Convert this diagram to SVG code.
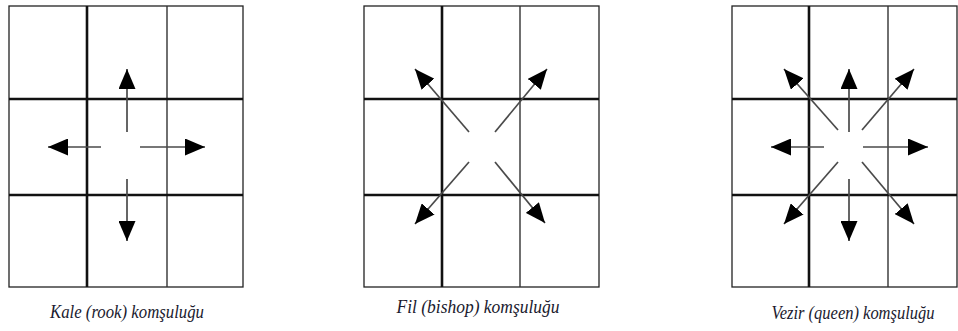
<svg xmlns="http://www.w3.org/2000/svg" width="958" height="331" viewBox="0 0 958 331">
  <style>
    .outer { fill: #fff; stroke: #222; stroke-width: 1.3; }
    .thick { stroke: #111; stroke-width: 2.6; }
    .thin { stroke: #333; stroke-width: 1.4; }
    .arrow { stroke: #4a4a4a; stroke-width: 1.7; fill: none; marker-end: url(#head); }
    .cap { font-family: "Liberation Serif", "Times New Roman", serif; font-style: italic; font-size: 18px; fill: #1a1a2e; text-anchor: middle; }
  </style>
  <defs>
    <marker id="head" viewBox="0 0 20 17" refX="20" refY="8.5" markerWidth="20" markerHeight="17" markerUnits="userSpaceOnUse" orient="auto">
      <path d="M0,0 L20,8.5 L0,17 Z" fill="#000"/>
    </marker>
  </defs>
  <rect width="958" height="331" fill="#fff"/>

  <!-- rook neighbourhood grid -->
  <g id="rook">
    <rect class="outer" x="9" y="6" width="234" height="281"/>
    <line class="thick" x1="87" y1="6" x2="87" y2="287"/>
    <line class="thin" x1="167" y1="6" x2="167" y2="287"/>
    <line class="thick" x1="9" y1="99" x2="243" y2="99"/>
    <line class="thick" x1="9" y1="195" x2="243" y2="195"/>
    <text class="cap" x="127" y="318" textLength="154" lengthAdjust="spacingAndGlyphs">Kale (rook) komşuluğu</text>
  </g>

  <!-- bishop neighbourhood grid -->
  <g id="bishop">
    <rect class="outer" x="364" y="6" width="235" height="281"/>
    <line class="thick" x1="442" y1="6" x2="442" y2="287"/>
    <line class="thin" x1="520" y1="6" x2="520" y2="287"/>
    <line class="thick" x1="364" y1="99" x2="599" y2="99"/>
    <line class="thick" x1="364" y1="195" x2="599" y2="195"/>
    <text class="cap" x="478" y="313" textLength="163" lengthAdjust="spacingAndGlyphs">Fil (bishop) komşuluğu</text>
  </g>

  <!-- queen neighbourhood grid -->
  <g id="queen">
    <rect class="outer" x="732" y="6" width="225" height="281"/>
    <line class="thick" x1="809" y1="6" x2="809" y2="287"/>
    <line class="thin" x1="888" y1="6" x2="888" y2="287"/>
    <line class="thick" x1="732" y1="99" x2="957" y2="99"/>
    <line class="thick" x1="732" y1="195" x2="957" y2="195"/>
    <text class="cap" x="853" y="319" textLength="163" lengthAdjust="spacingAndGlyphs">Vezir (queen) komşuluğu</text>
  </g>

  <!-- movement arrows -->
  <g id="connectors">
    <!-- rook -->
    <line class="arrow" x1="127" y1="132" x2="127" y2="69"/>
    <line class="arrow" x1="101" y1="147" x2="48" y2="147"/>
    <line class="arrow" x1="140" y1="147" x2="205" y2="147"/>
    <line class="arrow" x1="127" y1="179" x2="127" y2="241"/>
    <!-- bishop -->
    <line class="arrow" x1="469" y1="132" x2="415" y2="69"/>
    <line class="arrow" x1="495" y1="132" x2="547" y2="69"/>
    <line class="arrow" x1="469" y1="162" x2="415" y2="224"/>
    <line class="arrow" x1="495" y1="162" x2="545" y2="223"/>
    <!-- queen -->
    <line class="arrow" x1="849" y1="132" x2="849" y2="69"/>
    <line class="arrow" x1="824" y1="147" x2="771" y2="147"/>
    <line class="arrow" x1="863" y1="147" x2="928" y2="147"/>
    <line class="arrow" x1="849" y1="179" x2="849" y2="241"/>
    <line class="arrow" x1="838" y1="130" x2="784" y2="69"/>
    <line class="arrow" x1="862" y1="130" x2="914" y2="69"/>
    <line class="arrow" x1="838" y1="162" x2="784" y2="224"/>
    <line class="arrow" x1="862" y1="162" x2="914" y2="224"/>
  </g>
</svg>
